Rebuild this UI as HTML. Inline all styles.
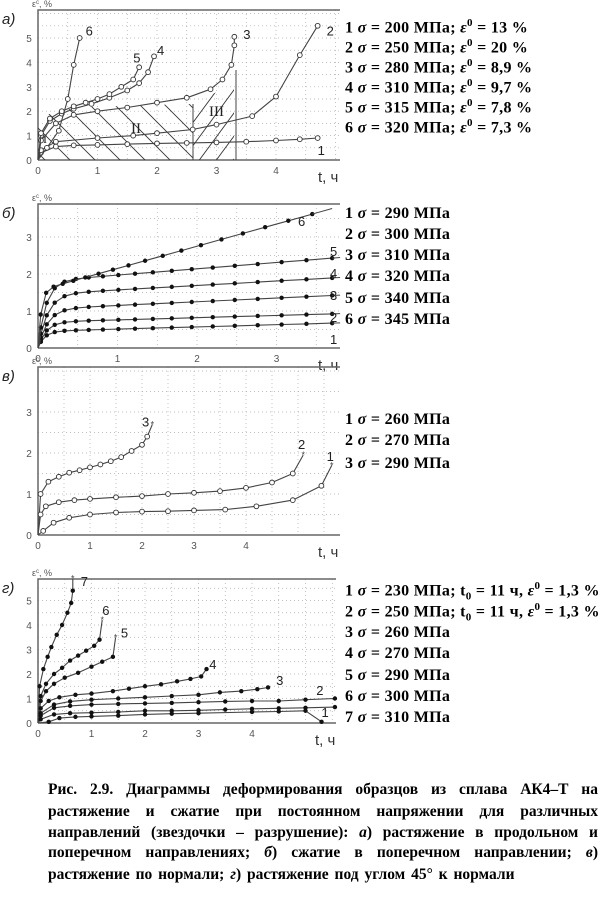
<!DOCTYPE html>
<html><head><meta charset="utf-8">
<style>
body{margin:0;background:#fff;width:606px;height:902px;overflow:hidden;font-family:"Liberation Serif",serif}
svg{position:absolute;left:0;top:0}
.lg{position:absolute;left:345px;font:bold 16px "Liberation Serif",serif;color:#000;white-space:nowrap;letter-spacing:0.3px}
.lg sup{font-size:11px}.lg sub{font-size:11px}
.cl{position:absolute;left:48px;width:550px;font:bold 15.5px "Liberation Serif",serif;line-height:20px;white-space:nowrap;text-align:justify;text-align-last:justify}
.cl.l{text-align-last:left;word-spacing:2px}
</style></head><body>
<svg id="s" width="606" height="902" xmlns="http://www.w3.org/2000/svg" font-family="Liberation Sans, sans-serif"></svg>
<div class="lg" style="top:17px">1 <i>σ</i> = 200 МПа; <i>ε</i><sup>0</sup> = 13 %</div>
<div class="lg" style="top:37px">2 <i>σ</i> = 250 МПа; <i>ε</i><sup>0</sup> = 20 %</div>
<div class="lg" style="top:57px">3 <i>σ</i> = 280 МПа; <i>ε</i><sup>0</sup> = 8,9 %</div>
<div class="lg" style="top:77px">4 <i>σ</i> = 310 МПа; <i>ε</i><sup>0</sup> = 9,7 %</div>
<div class="lg" style="top:97px">5 <i>σ</i> = 315 МПа; <i>ε</i><sup>0</sup> = 7,8 %</div>
<div class="lg" style="top:117px">6 <i>σ</i> = 320 МПа; <i>ε</i><sup>0</sup> = 7,3 %</div>

<div class="lg" style="top:205px">1 <i>σ</i> = 290 МПа</div>
<div class="lg" style="top:226px">2 <i>σ</i> = 300 МПа</div>
<div class="lg" style="top:247px">3 <i>σ</i> = 310 МПа</div>
<div class="lg" style="top:268px">4 <i>σ</i> = 320 МПа</div>
<div class="lg" style="top:290px">5 <i>σ</i> = 340 МПа</div>
<div class="lg" style="top:311px">6 <i>σ</i> = 345 МПа</div>

<div class="lg" style="top:411px">1 <i>σ</i> = 260 МПа</div>
<div class="lg" style="top:432px">2 <i>σ</i> = 270 МПа</div>
<div class="lg" style="top:455px">3 <i>σ</i> = 290 МПа</div>

<div class="lg" style="top:580px">1 <i>σ</i> = 230 МПа; t<sub>0</sub> = 11 ч, <i>ε</i><sup>0</sup> = 1,3 %</div>
<div class="lg" style="top:601px">2 <i>σ</i> = 250 МПа; t<sub>0</sub> = 11 ч, <i>ε</i><sup>0</sup> = 1,3 %</div>
<div class="lg" style="top:624px">3 <i>σ</i> = 260 МПа</div>
<div class="lg" style="top:645px">4 <i>σ</i> = 270 МПа</div>
<div class="lg" style="top:667px">5 <i>σ</i> = 290 МПа</div>
<div class="lg" style="top:688px">6 <i>σ</i> = 300 МПа</div>
<div class="lg" style="top:709px">7 <i>σ</i> = 310 МПа</div>

<div class="cl" style="top:780px">Рис. 2.9. Диаграммы деформирования образцов из сплава АК4–Т на</div>
<div class="cl" style="top:802px">растяжение и сжатие при постоянном напряжении для различных</div>
<div class="cl" style="top:823px">направлений (звездочки – разрушение): <i>а</i>) растяжение в продольном и</div>
<div class="cl" style="top:843px">поперечном направлениях; <i>б</i>) сжатие в поперечном направлении; <i>в</i>)</div>
<div class="cl l" style="top:865px">растяжение по нормали; <i>г</i>) растяжение под углом 45° к нормали</div>

<script>
const S=document.getElementById('s');let h='';
function el(s){h+=s;}
function panel(P){
 const {x0,y0,top,right,sx,sy,xt,yt,lab,tl}=P;
 for(let x=x0;x<=right;x+=sx/2)el(`<line x1="${x}" y1="${top}" x2="${x}" y2="${y0}" stroke="#aaa" stroke-width="0.7" stroke-dasharray="1,3"/>`);
 for(let y=y0;y>=top;y-=sy/2)el(`<line x1="${x0}" y1="${y}" x2="${right}" y2="${y}" stroke="#aaa" stroke-width="0.7" stroke-dasharray="1,3"/>`);
 el(`<path d="M${x0} ${y0}V${top}H${right}" fill="none" stroke="#666" stroke-width="1.5"/>`);
 el(`<line x1="${x0}" y1="${y0}" x2="${right}" y2="${y0}" stroke="#666" stroke-width="1.5"/>`);
 for(let i=0;i<=xt;i++)el(`<text x="${x0+i*sx}" y="${y0+14}" font-size="10" fill="#555" text-anchor="middle">${i}</text>`);
 for(let i=0;i<=yt;i++)el(`<text x="${x0-9}" y="${y0-i*sy+4}" font-size="10" fill="#555" text-anchor="middle">${i}</text>`);
 el(`<text x="${x0-36}" y="${top+14}" font-size="15" font-style="italic" fill="#222">${lab})</text>`);
 el(`<text x="${x0-6}" y="${top-3}" font-size="9" fill="#555">ε<tspan font-size="6" dy="-3">c</tspan><tspan dy="3">, %</tspan></text>`);
 el(`<text x="${tl}" y="${y0+22}" font-size="15" fill="#333">t, ч</text>`);
}
function curve(P,pts,mk,star,lbl){
 const X=t=>P.x0+t*P.sx,Y=e=>P.y0-e*P.sy;
 let d='M'+pts.map(p=>X(p[0]).toFixed(1)+' '+Y(p[1]).toFixed(1)).join(' L');
 el(`<path d="${d}" fill="none" stroke="#444" stroke-width="1.1" stroke-linejoin="round"/>`);
 pts.forEach((p,i)=>{if(i==0)return;const x=X(p[0]),y=Y(p[1]);
  if(star&&i==pts.length-1){el(`<text x="${x}" y="${y+3}" font-size="9" text-anchor="middle" fill="#444">*</text>`);return;}
  if(mk=='o')el(`<circle cx="${x}" cy="${y}" r="2.4" fill="#fff" stroke="#333" stroke-width="0.9"/>`);
  else el(`<circle cx="${x}" cy="${y}" r="2.2" fill="#111"/>`);});
 if(lbl)el(`<text x="${X(lbl[0])}" y="${Y(lbl[1])}" font-size="13" fill="#222">${lbl[2]}</text>`);
}
const A={x0:38,y0:160,top:10,right:340,sx:59.5,sy:24.4,xt:4,yt:5,lab:'a',tl:318};
panel(A);
el(`<clipPath id="c2"><polygon points="38,160 38,118 60,110 90,107 150,105 193,104 193,160"/></clipPath>`);
let hs='';for(let i=-10;i<14;i++){const x=60+i*25;hs+=`<line x1="${x}" y1="100" x2="${x+65}" y2="165" stroke="#333" stroke-width="0.9"/>`;}
el(`<g clip-path="url(#c2)">${hs}</g>`);
el(`<clipPath id="c3"><polygon points="193,160 193,104 200,100 225,88 234,80 234,160"/></clipPath>`);
let h3='';for(let i=-4;i<8;i++){const x=175+i*17;h3+=`<line x1="${x}" y1="170" x2="${x+70}" y2="75" stroke="#333" stroke-width="0.9"/>`;}
el(`<g clip-path="url(#c3)">${h3}</g>`);
el(`<line x1="193" y1="104" x2="193" y2="160" stroke="#444"/><line x1="236" y1="70" x2="236" y2="160" stroke="#444"/>`);
el(`<text x="131" y="133" font-size="15" font-family="Liberation Serif" fill="#222">II</text><text x="209" y="116" font-size="15" font-family="Liberation Serif" fill="#222">III</text><text x="43" y="143" font-size="12" font-family="Liberation Serif" fill="#222">I</text>`);
curve(A,[[0,0],[0.05,0.3],[0.3,0.55],[0.6,0.6],[1,0.62],[1.5,0.65],[2,0.68],[2.5,0.7],[3,0.72],[3.5,0.75],[4,0.8],[4.4,0.85],[4.7,0.9]],'o',0,[4.7,0.2,'1']);
curve(A,[[0,0],[0.05,0.4],[0.3,0.75],[1,0.9],[1.6,1],[2,1.1],[2.6,1.25],[3,1.45],[3.6,1.8],[4,2.6],[4.4,4.3],[4.7,5.5]],'o',0,[4.85,5.1,'2']);
curve(A,[[0,0],[0.05,0.8],[0.3,1.5],[0.6,1.85],[1,2],[1.5,2.15],[2,2.35],[2.5,2.55],[2.9,2.9],[3.1,3.3],[3.25,3.9],[3.3,4.7],[3.3,5.05]],'o',0,[3.45,4.95,'3']);
curve(A,[[0,0],[0.05,1.0],[0.2,1.6],[0.4,1.9],[0.6,2.1],[0.9,2.3],[1.2,2.55],[1.5,2.85],[1.7,3.15],[1.85,3.6],[1.95,4.25]],'o',0,[2.0,4.3,'4']);
curve(A,[[0,0],[0.05,1.1],[0.2,1.7],[0.4,2.0],[0.6,2.2],[0.8,2.35],[1,2.5],[1.2,2.7],[1.4,3.0],[1.6,3.3],[1.7,3.8]],'o',0,[1.6,4.0,'5']);
curve(A,[[0,0],[0.15,0.5],[0.35,1.2],[0.5,2.5],[0.6,3.9],[0.7,5.0]],'o',0,[0.8,5.1,'6']);

const B={x0:38,y0:348,top:204,right:340,sx:79.5,sy:37,xt:3,yt:3,lab:'б',tl:318};
panel(B);
function gen(a,tau,b,tmax,n){const r=[[0,0]];for(let i=1;i<=n;i++){const t=Math.pow(i/n,1.6)*tmax;r.push([t,a*(1-Math.exp(-t/tau))+b*t]);}return r;}
const bl=[[0.45,0.08,0.06],[0.7,0.1,0.06],[1.05,0.12,0.1],[1.45,0.12,0.12],[1.8,0.1,0.17],[1.55,0.04,0.6]];
bl.forEach((c,k)=>{const tm=k==5?3.45:3.7;const p=gen(c[0],c[1],c[2],tm,18);const last=p[p.length-1];
 curve(B,p,'f',0,null);
 const xe=k==5?3.7:3.8;
 el(`<line x1="${38+last[0]*79.5}" y1="${348-last[1]*37}" x2="${38+xe*79.5}" y2="${348-(last[1]+c[2]*(xe-tm))*37}" stroke="#444"/>`);});
[['1',330,344],['2',330,322],['3',330,300],['4',330,278],['5',330,256],['6',298,226]].forEach(l=>el(`<text x="${l[1]}" y="${l[2]}" font-size="13" fill="#222">${l[0]}</text>`));

const C={x0:38,y0:535,top:367,right:340,sx:52,sy:41,xt:4,yt:3,lab:'в',tl:318};
panel(C);
curve(C,[[0,0],[0.05,1.0],[0.2,1.3],[0.4,1.42],[0.6,1.52],[0.8,1.58],[1,1.65],[1.2,1.72],[1.4,1.8],[1.6,1.9],[1.8,2.05],[2.0,2.2],[2.1,2.4],[2.2,2.7]],'o',1,[2.0,2.65,'3']);
curve(C,[[0,0],[0.05,0.5],[0.15,0.7],[0.4,0.8],[0.7,0.85],[1,0.88],[1.5,0.92],[2,0.95],[2.5,1.0],[3,1.03],[3.5,1.07],[4,1.15],[4.5,1.28],[4.9,1.5],[5.1,1.95]],'o',1,[5.0,2.1,'2']);
curve(C,[[0,0],[0.1,0.1],[0.3,0.3],[0.6,0.42],[1,0.5],[1.5,0.55],[2,0.57],[2.5,0.58],[3,0.6],[3.6,0.62],[4.2,0.7],[4.9,0.85],[5.45,1.2],[5.65,1.7]],'o',1,[5.55,1.8,'1']);

const D={x0:38,y0:723,top:579,right:336,sx:53.5,sy:24.5,xt:4,yt:5,lab:'г',tl:315};
panel(D);
curve(D,[[0,0],[0.03,1.5],[0.1,2.2],[0.18,2.7],[0.25,3.1],[0.35,3.6],[0.45,4.0],[0.55,4.5],[0.62,4.9],[0.65,5.4],[0.65,5.9]],'f',1,[0.8,5.6,'7']);
curve(D,[[0,0],[0.05,1.1],[0.15,1.6],[0.3,2.0],[0.45,2.25],[0.6,2.55],[0.75,2.75],[0.9,2.95],[1.05,3.15],[1.15,3.4],[1.2,4.2]],'f',1,[1.2,4.4,'6']);
curve(D,[[0,0],[0.05,0.9],[0.15,1.3],[0.3,1.6],[0.5,1.85],[0.75,2.05],[1,2.3],[1.2,2.5],[1.4,2.7],[1.45,3.5]],'f',1,[1.55,3.5,'5']);
curve(D,[[0,0],[0.05,0.6],[0.2,0.9],[0.4,1.05],[0.7,1.15],[1,1.2],[1.4,1.3],[1.7,1.4],[2,1.5],[2.3,1.58],[2.6,1.7],[2.85,1.8],[3.05,1.9],[3.15,2.2]],'f',0,[3.2,2.2,'4']);
curve(D,[[0,0],[0.05,0.4],[0.3,0.75],[0.6,0.88],[1,0.95],[1.5,1.0],[2,1.05],[2.5,1.1],[3,1.15],[3.4,1.25],[3.8,1.3],[4.1,1.38],[4.3,1.45]],'f',0,[4.45,1.55,'3']);
curve(D,[[0,0],[0.05,0.3],[0.3,0.62],[0.6,0.7],[1,0.75],[1.5,0.78],[2,0.8],[2.5,0.82],[3,0.85],[3.5,0.88],[4,0.9],[4.5,0.9],[5,0.95],[5.55,1.0]],'f',0,[5.2,1.15,'2']);
curve(D,[[0,0],[0.05,0.15],[0.3,0.35],[0.6,0.4],[1,0.42],[1.5,0.45],[2,0.5],[2.5,0.5],[3,0.52],[3.5,0.55],[4,0.58],[4.5,0.6],[5,0.62],[5.55,0.65]],'f',0,null);
curve(D,[[0,0],[0.2,0.05],[0.4,0.2],[0.7,0.25],[1,0.27],[1.5,0.3],[2,0.35],[2.5,0.38],[3,0.4],[4,0.45],[4.5,0.47],[5,0.5],[5.3,0.05]],'f',0,[5.3,0.25,'1']);
S.innerHTML=h;
</script>
</body></html>
